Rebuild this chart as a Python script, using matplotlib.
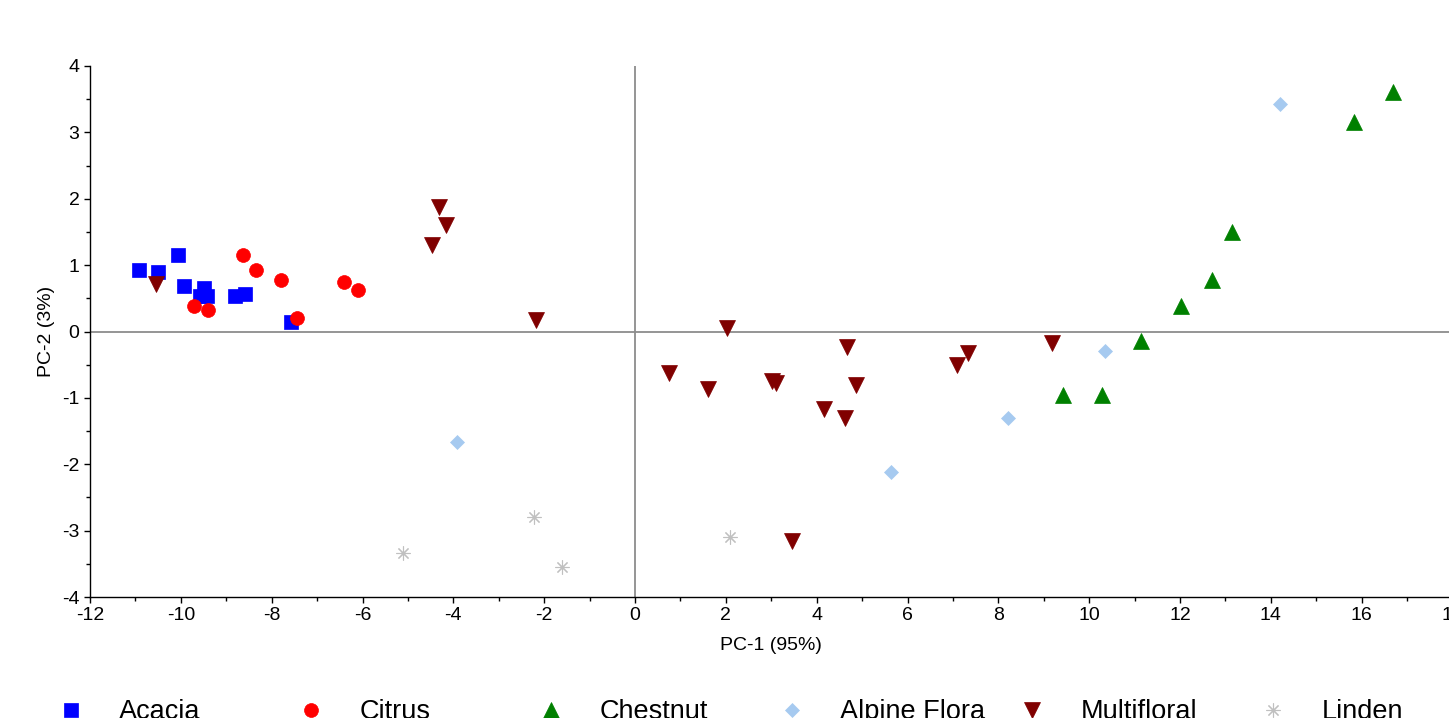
import numpy as np
import matplotlib.pyplot as plt
from matplotlib.ticker import MultipleLocator

plt.rcParams['font.family'] = ['Liberation Sans', 'DejaVu Sans']
plt.rcParams['axes.unicode_minus'] = False

# PCA scores
acacia_x = [-10.92, -10.50, -10.06, -9.93, -9.49, -9.58, -9.42, -8.81, -8.59, -7.57]
acacia_y = [0.92, 0.89, 1.16, 0.69, 0.66, 0.53, 0.54, 0.53, 0.56, 0.14]

citrus_x = [-8.63, -8.34, -7.79, -9.71, -9.40, -7.44, -6.41, -6.10]
citrus_y = [1.16, 0.92, 0.77, 0.38, 0.33, 0.20, 0.74, 0.62]

chestnut_x = [9.42, 10.27, 11.14, 12.01, 12.71, 13.14, 15.82, 16.68]
chestnut_y = [-0.95, -0.95, -0.15, 0.38, 0.78, 1.50, 3.16, 3.61]

alpine_x = [-3.92, 5.63, 8.21, 10.35, 14.19]
alpine_y = [-1.66, -2.12, -1.30, -0.29, 3.43]

multi_x = [-10.55, -4.32, -4.16, -4.47, -2.18, 0.75, 1.61, 2.03, 3.02, 3.10,
           3.46, 4.16, 4.62, 4.67, 4.87, 7.08, 7.32, 9.17]
multi_y = [0.72, 1.88, 1.61, 1.30, 0.18, -0.62, -0.86, 0.06, -0.74, -0.77,
           -3.16, -1.17, -1.31, -0.24, -0.80, -0.51, -0.33, -0.17]

linden_x = [-5.11, -2.22, -1.61, 2.09]
linden_y = [-3.33, -2.79, -3.55, -3.10]

series = [
    ('Acacia', acacia_x, acacia_y, 's', '#0000FF', 9.5),
    ('Citrus', citrus_x, citrus_y, 'o', '#FF0000', 10),
    ('Chestnut', chestnut_x, chestnut_y, '^', '#008000', 11),
    ('Alpine Flora', alpine_x, alpine_y, 'D', '#A6CAF0', 7.5),
    ('Multifloral', multi_x, multi_y, 'v', '#800000', 11),
    ('Linden', linden_x, linden_y, (8, 2, 0), '#C0C0C0', 10),
]

fig = plt.figure(figsize=(14.49, 7.18), dpi=100)
ax = fig.add_axes([90 / 1449, 121 / 718, 1362.6 / 1449, 531 / 718])

ax.axhline(0, color='#8c8c8c', lw=1.3, zorder=1)
ax.axvline(0, color='#8c8c8c', lw=1.3, zorder=1)

handles = []
for name, xs, ys, mk, col, ms in series:
    h, = ax.plot(xs, ys, linestyle='none', marker=mk, color=col, markersize=ms,
                 markeredgewidth=0.8 if mk == (8, 2, 0) else 0.5, label=name, zorder=3)
    handles.append(h)

ax.set_xlim(-12, 18)
ax.set_ylim(-4, 4)
ax.xaxis.set_major_locator(MultipleLocator(2))
ax.xaxis.set_minor_locator(MultipleLocator(1))
ax.yaxis.set_major_locator(MultipleLocator(1))
ax.yaxis.set_minor_locator(MultipleLocator(0.5))
ax.tick_params(which='major', direction='out', length=4, width=1, labelsize=14)
ax.tick_params(which='minor', direction='out', length=3, width=1)
for s in ['top', 'right']:
    ax.spines[s].set_visible(False)
for s in ['left', 'bottom']:
    ax.spines[s].set_linewidth(1)

ax.set_xlabel('PC-1 (95%)', fontsize=14, labelpad=9)
ax.set_ylabel('PC-2 (3%)', fontsize=14, labelpad=5)

# one legend entry per column, evenly spaced like the original
for i, h in enumerate(handles):
    x0 = (57 + i * 240.4) / 1449
    fig.legend(handles=[h], loc='center left', bbox_to_anchor=(x0, 6 / 718),
               frameon=False, fontsize=19.5, handlelength=1.0, handletextpad=1.3,
               borderpad=0, borderaxespad=0)

fig.savefig('out.png', dpi=100)
